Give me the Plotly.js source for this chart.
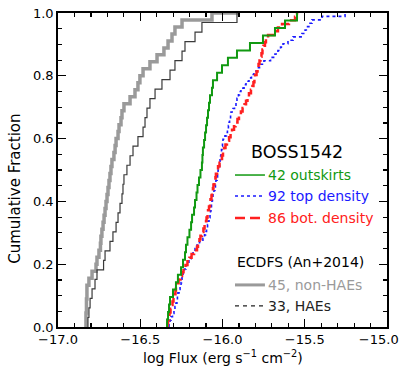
<!DOCTYPE html>
<html>
<head>
<meta charset="utf-8">
<script src="https://cdn.plot.ly/plotly-3.0.1.min.js"></script>
<style>
  body { margin: 0; background: #fff; }
  #chart { width: 399px; height: 374px; }
</style>
</head>
<body>
<div id="chart"></div>
<script>
// sorted log fluxes
var nonHaeFlux = [-16.830, -16.830, -16.827, -16.827, -16.824, -16.824, -16.812, -16.793, -16.769, -16.763,
  -16.751, -16.742, -16.739, -16.733, -16.726, -16.720, -16.714, -16.708, -16.702, -16.696,
  -16.690, -16.684, -16.678, -16.672, -16.660, -16.653, -16.647, -16.635, -16.629, -16.617,
  -16.611, -16.599, -16.562, -16.532, -16.514, -16.502, -16.483, -16.441, -16.398, -16.356,
  -16.331, -16.307, -16.289, -16.246, -16.064];
var nonHaeEnd = -15.906;

var haeFlux = [-16.818, -16.812, -16.805, -16.793, -16.775, -16.763, -16.723, -16.714, -16.684, -16.666,
  -16.647, -16.635, -16.623, -16.611, -16.605, -16.599, -16.581, -16.562, -16.544, -16.514,
  -16.483, -16.471, -16.459, -16.441, -16.410, -16.368, -16.319, -16.289, -16.246, -16.228,
  -16.167, -16.125, -15.912];

var outskirtsFlux = [-16.337, -16.331, -16.325, -16.319, -16.301, -16.283, -16.271, -16.252, -16.240, -16.228,
  -16.222, -16.213, -16.201, -16.191, -16.185, -16.173, -16.167, -16.158, -16.152, -16.143,
  -16.134, -16.125, -16.122, -16.119, -16.112, -16.106, -16.100, -16.094, -16.088, -16.082,
  -16.076, -16.064, -16.058, -16.033, -16.003, -15.967, -15.912, -15.833, -15.754, -15.681,
  -15.620, -15.547];

var topFlux = [-16.325, -16.319, -16.313, -16.304, -16.295, -16.289, -16.283, -16.277, -16.274, -16.271,
  -16.264, -16.258, -16.252, -16.249, -16.246, -16.240, -16.231, -16.222, -16.216, -16.204,
  -16.191, -16.179, -16.167, -16.155, -16.140, -16.119, -16.109, -16.103, -16.097, -16.091,
  -16.088, -16.082, -16.076, -16.073, -16.070, -16.067, -16.064, -16.061, -16.058, -16.052,
  -16.046, -16.043, -16.040, -16.033, -16.030, -16.027, -16.021, -16.018, -16.015, -16.012,
  -16.009, -16.006, -16.003, -16.000, -15.997, -15.985, -15.976, -15.970, -15.964, -15.960,
  -15.957, -15.951, -15.948, -15.936, -15.927, -15.918, -15.912, -15.903, -15.897, -15.888,
  -15.869, -15.857, -15.839, -15.824, -15.809, -15.790, -15.775, -15.748, -15.708, -15.681,
  -15.663, -15.647, -15.632, -15.602, -15.571, -15.517, -15.498, -15.483, -15.468, -15.456,
  -15.395, -15.255];

var botFlux = [-16.334, -16.331, -16.325, -16.322, -16.316, -16.310, -16.304, -16.298, -16.289, -16.286,
  -16.283, -16.277, -16.267, -16.255, -16.246, -16.237, -16.225, -16.213, -16.201, -16.188,
  -16.173, -16.155, -16.149, -16.140, -16.134, -16.125, -16.116, -16.109, -16.100, -16.097,
  -16.091, -16.088, -16.082, -16.076, -16.073, -16.067, -16.064, -16.058, -16.055, -16.049,
  -16.043, -16.040, -16.033, -16.027, -16.018, -16.012, -16.003, -15.997, -15.991, -15.982,
  -15.973, -15.960, -15.951, -15.942, -15.930, -15.921, -15.909, -15.900, -15.888, -15.878,
  -15.866, -15.857, -15.848, -15.839, -15.827, -15.818, -15.812, -15.806, -15.802, -15.793,
  -15.787, -15.781, -15.775, -15.769, -15.763, -15.757, -15.751, -15.742, -15.736, -15.723,
  -15.687, -15.663, -15.638, -15.596, -15.559, -15.547];

var xTicks = [-17.0, -16.5, -16.0, -15.5, -15.0];
// last label padded so it stays inside the page, as in the original
var xTickText = ['\u221217.0', '\u221216.5', '\u221216.0', '\u221215.5', '\u221215.0\u00a0\u00a0\u00a0\u00a0'];
var yTicks = [0, 0.2, 0.4, 0.6, 0.8, 1.0];

var font = 'DejaVu Sans, Verdana, sans-serif';

cumTrace = function(xs, end, line) {
    var n = xs.length;
    var x = [xs[0]], y = [0];
    for (var i = 0; i < n; i++) {
        x.push(xs[i]);
        y.push((i + 1) / n);
    }
    if (end !== undefined) { x.push(end); y.push(1); }
    line.shape = 'hv';
    return {x: x, y: y, type: 'scatter', mode: 'lines', line: line,
            hoverinfo: 'none', showlegend: false};
};

var data = [
    cumTrace(nonHaeFlux, nonHaeEnd, {color: '#9a9a9a', width: 3.5}),
    cumTrace(haeFlux, undefined, {color: '#3a3a3a', width: 1.2}),
    cumTrace(topFlux, undefined, {color: '#1a1aff', width: 1.6, dash: 'dot'}),
    cumTrace(botFlux, undefined, {color: '#ff2020', width: 2.5, dash: '9px,4px'}),
    cumTrace(outskirtsFlux, undefined, {color: '#119911', width: 2})
];

// legend rows (paper coords)
var lx0 = 0.538, lx1 = 0.629, tx = 0.632;
var rows = [
    {y: 0.484, text: '42 outskirts', color: '#119911', line: {color: '#119911', width: 1.5}},
    {y: 0.417, text: '92 top density', color: '#1a1aff', line: {color: '#1a1aff', width: 1.5, dash: 'dot'}},
    {y: 0.347, text: '86 bot. density', color: '#ff2020', line: {color: '#ff2020', width: 2.5, dash: '10px,5px'}},
    {y: 0.134, text: '45, non-HAEs', color: '#9a9a9a', line: {color: '#9a9a9a', width: 3}},
    {y: 0.067, text: '33, HAEs', color: '#222', line: {color: '#222', width: 1.2, dash: '4px,4px'}}
];

var shapes = [], annotations = [];
rows.forEach(function(r) {
    shapes.push({type: 'line', xref: 'paper', yref: 'paper', x0: lx0, x1: lx1, y0: r.y, y1: r.y, line: r.line});
    annotations.push({xref: 'paper', yref: 'paper', x: tx, y: r.y, xanchor: 'left', yanchor: 'middle',
        text: r.text, showarrow: false, font: {family: font, size: 14, color: r.color}});
});
annotations.push({xref: 'paper', yref: 'paper', x: 0.726, y: 0.557, xanchor: 'center', yanchor: 'middle',
    text: 'BOSS1542', showarrow: false, font: {family: font, size: 17.5, color: '#000'}});
annotations.push({xref: 'paper', yref: 'paper', x: lx0, y: 0.207, xanchor: 'left', yanchor: 'middle',
    text: 'ECDFS (An+2014)', showarrow: false, font: {family: font, size: 14, color: '#000'}});
// axis titles
annotations.push({xref: 'paper', yref: 'paper', x: 0.5, y: -0.0955, xanchor: 'center', yanchor: 'middle',
    text: 'log Flux (erg s<sup>\u22121</sup> cm<sup>\u22122</sup>)', showarrow: false,
    font: {family: font, size: 14, color: '#000'}});
annotations.push({xref: 'paper', yref: 'paper', x: -0.131, y: 0.44, xanchor: 'center', yanchor: 'middle',
    textangle: -90, text: 'Cumulative Fraction', showarrow: false,
    font: {family: font, size: 15, color: '#000'}});

var layout = {
    width: 399,
    height: 374,
    margin: {l: 58, r: 12, t: 13, b: 47},
    paper_bgcolor: '#fff',
    plot_bgcolor: '#fff',
    font: {family: font, size: 13, color: '#000'},
    showlegend: false,
    xaxis: {
        range: [-17, -15],
        tickvals: xTicks,
        ticktext: xTickText,
        ticklabeloverflow: 'allow',
        ticks: 'inside', ticklen: 8, tickwidth: 1.2, tickcolor: '#000',
        minor: {dtick: 0.1, ticks: 'inside', ticklen: 4, tickwidth: 1.2, tickcolor: '#000'},
        showline: true, linecolor: '#000', linewidth: 1.8, mirror: 'ticks',
        showgrid: false, zeroline: false
    },
    yaxis: {
        range: [0, 1],
        tickvals: yTicks,
        tickformat: '.1f',
        ticklabeloverflow: 'allow',
        ticks: 'inside', ticklen: 8, tickwidth: 1.2, tickcolor: '#000',
        minor: {dtick: 0.05, ticks: 'inside', ticklen: 4, tickwidth: 1.2, tickcolor: '#000'},
        showline: true, linecolor: '#000', linewidth: 1.8, mirror: 'ticks',
        showgrid: false, zeroline: false
    },
    shapes: shapes,
    annotations: annotations
};

Plotly.newPlot('chart', data, layout, {displayModeBar: false, staticPlot: true});
</script>
</body>
</html>
